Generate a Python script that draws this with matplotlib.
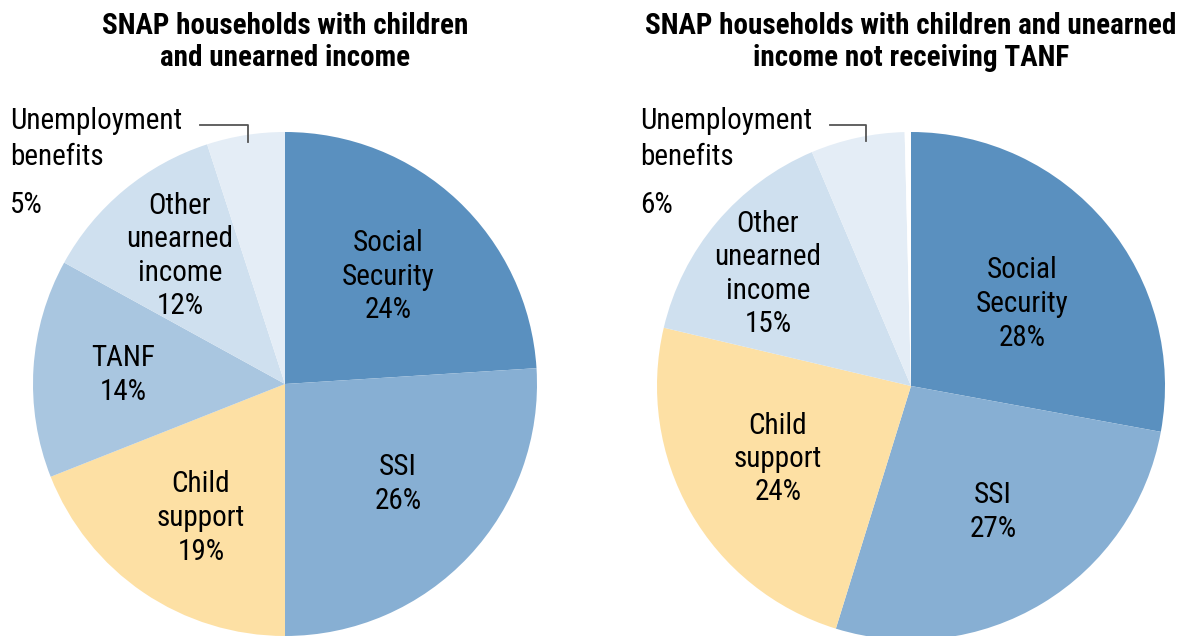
import matplotlib
matplotlib.use("Agg")
import matplotlib.pyplot as plt

plt.rcParams['font.family'] = ['Roboto Condensed', 'Roboto', 'DejaVu Sans']

# data
left_labels = ['Social\nSecurity', 'SSI', 'Child\nsupport', 'TANF',
               'Other\nunearned\nincome', 'Unemployment\nbenefits']
left_values = [24, 26, 19, 14, 12, 5]
right_labels = ['Social\nSecurity', 'SSI', 'Child\nsupport',
                'Other\nunearned\nincome', 'Unemployment\nbenefits']
right_values = [28, 27, 24, 15, 6]

colors = {'Social\nSecurity': '#5a90bf', 'SSI': '#87afd3',
          'Child\nsupport': '#fde0a4', 'TANF': '#a9c6e0',
          'Other\nunearned\nincome': '#cfe0ef',
          'Unemployment\nbenefits': '#e4edf6'}

W, H = 1190, 636
fig = plt.figure(figsize=(W / 100, H / 100), dpi=100)


def draw(cx, cy, R, labels, values, title, label_pos, gap=0.0):
    ax = fig.add_axes([(cx - R) / W, (H - cy - R) / H, 2 * R / W, 2 * R / H])
    vals = list(values)
    cols = [colors[l] for l in labels]
    if gap:
        vals = vals + [gap]
        cols = cols + ['white']
    ax.pie(vals, colors=cols, startangle=90, counterclock=False, radius=1,
           wedgeprops=dict(linewidth=0))
    ax.set_xlim(-1, 1)
    ax.set_ylim(-1, 1)
    ax.set_aspect('auto')
    ax.axis('off')
    for lab, v in zip(labels, values):
        px, py = label_pos[lab]
        x = (px - cx) / R
        y = (cy - py) / R
        if lab.startswith('Unemployment'):
            ax.text(x, y, lab, ha='left', va='top', fontsize=21,
                    linespacing=1.35, clip_on=False)
            ax.text(x, (cy - py - 84) / R, '%d%%' % v, ha='left', va='top',
                    fontsize=21, clip_on=False)
        else:
            ax.text(x, y, lab + '\n' + '%d%%' % v, ha='center', va='center',
                    fontsize=21, linespacing=1.25, clip_on=False)
    fig.text(cx / W, 1 - 12 / H, title, ha='center', va='top', fontsize=21,
             fontweight='bold', linespacing=1.2)
    return ax


left_pos = {'Social\nSecurity': (388, 277), 'SSI': (398, 484),
            'Child\nsupport': (201, 518), 'TANF': (123, 375),
            'Other\nunearned\nincome': (180, 256),
            'Unemployment\nbenefits': (10, 107)}
right_pos = {'Social\nSecurity': (1022, 304), 'SSI': (993, 512),
             'Child\nsupport': (778, 459),
             'Other\nunearned\nincome': (768, 274),
             'Unemployment\nbenefits': (640, 107)}

axl = draw(285, 384, 252, left_labels, left_values,
           'SNAP households with children\nand unearned income', left_pos)
axr = draw(911, 386, 254, right_labels, right_values,
           'SNAP households with children and unearned\nincome not receiving TANF',
           right_pos, gap=0.4)

# leader lines for the small slices
for x0, x1, y0, y1 in [(200, 248, 125, 142), (830, 866, 125, 141)]:
    fig.add_artist(plt.Line2D([x0 / W, x1 / W, x1 / W],
                              [1 - y0 / H, 1 - y0 / H, 1 - y1 / H],
                              color='#555555', lw=1.3))

fig.savefig('out.png', dpi=100)
